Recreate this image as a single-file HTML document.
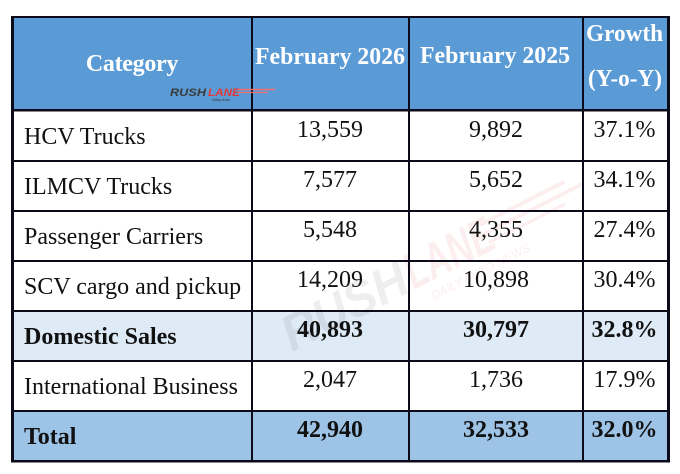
<!DOCTYPE html>
<html><head><meta charset="utf-8"><style>
html,body{margin:0;padding:0;background:#fff;}
svg{display:block;}
text{font-family:"Liberation Serif","Times New Roman",serif;}
.sans{font-family:"Liberation Sans",Arial,sans-serif;}
</style></head><body>
<svg width="680" height="474" viewBox="0 0 680 474" xmlns="http://www.w3.org/2000/svg">
<rect x="0" y="0" width="680" height="474" fill="#fff"/>
<!-- header bg -->
<rect x="12" y="16" width="657" height="95" fill="#5B9BD5"/>
<!-- domestic row -->
<rect x="12" y="311" width="657" height="50" fill="#DEEAF6"/>
<!-- total row -->
<rect x="12" y="411" width="657" height="50" fill="#9DC3E6"/>

<!-- watermark -->
<g opacity="0.08" transform="translate(292,352) rotate(-27)">
<text class="sans" x="0" y="0" font-size="50" font-weight="bold" font-style="italic" fill="#333" textLength="135" lengthAdjust="spacingAndGlyphs">RUSH</text>
<text class="sans" x="137" y="0" font-size="50" font-weight="bold" font-style="italic" fill="#e03030" textLength="95" lengthAdjust="spacingAndGlyphs">LANE</text>
<line x1="225" y1="-28" x2="320" y2="-28" stroke="#e03030" stroke-width="4"/>
<line x1="225" y1="-18" x2="335" y2="-18" stroke="#e03030" stroke-width="4"/>
<line x1="225" y1="-8" x2="310" y2="-8" stroke="#e03030" stroke-width="3"/>
<text class="sans" x="150" y="18" font-size="12" fill="#e03030" font-style="italic">DAILY AUTO NEWS</text>
</g>

<!-- grid lines -->
<g fill="#0b0b1a">
<rect x="11" y="16" width="3" height="446"/>
<rect x="251" y="16" width="2" height="446"/>
<rect x="408" y="16" width="2" height="446"/>
<rect x="582" y="16" width="2" height="446"/>
<rect x="667" y="16" width="3" height="446"/>
<rect x="11" y="16" width="659" height="2"/>
<rect x="11" y="109" width="659" height="2.5"/>
<rect x="11" y="160" width="659" height="2"/>
<rect x="11" y="210" width="659" height="2"/>
<rect x="11" y="260" width="659" height="2"/>
<rect x="11" y="310" width="659" height="2"/>
<rect x="11" y="360" width="659" height="2"/>
<rect x="11" y="410" width="659" height="2"/>
<rect x="11" y="460" width="659" height="2.5"/>
</g>

<!-- header text -->
<g fill="#fff" font-weight="bold" font-size="24" text-anchor="middle">
<text x="132" y="71" letter-spacing="-0.3">Category</text>
<text x="330" y="64" textLength="150" lengthAdjust="spacingAndGlyphs">February 2026</text>
<text x="495" y="63" textLength="150" lengthAdjust="spacingAndGlyphs">February 2025</text>
<text x="624.5" y="41" textLength="77" lengthAdjust="spacingAndGlyphs">Growth</text>
<text x="625" y="86" textLength="74" lengthAdjust="spacingAndGlyphs">(Y-o-Y)</text>
</g>

<!-- small logo -->
<g>
<text class="sans" x="170" y="96" font-size="11" font-weight="bold" font-style="italic" fill="#3a3a3a" textLength="36" lengthAdjust="spacingAndGlyphs">RUSH</text>
<text class="sans" x="208" y="96" font-size="11" font-weight="bold" font-style="italic" fill="#e23a3a" textLength="32" lengthAdjust="spacingAndGlyphs">LANE</text>
<line x1="238" y1="89.5" x2="275" y2="89.5" stroke="#f07070" stroke-width="1.5"/>
<line x1="238" y1="92.5" x2="268" y2="92.5" stroke="#f07070" stroke-width="1.2"/>
<text class="sans" x="212" y="101" font-size="4" fill="#333">Daily Auto</text>
</g>

<!-- labels -->
<g fill="#111" font-size="24">
<text x="24" y="144">HCV Trucks</text>
<text x="24" y="194">ILMCV Trucks</text>
<text x="24" y="244">Passenger Carriers</text>
<text x="24" y="294">SCV cargo and pickup</text>
<text x="24" y="344" font-weight="bold">Domestic Sales</text>
<text x="24" y="394">International Business</text>
<text x="24" y="444" font-weight="bold">Total</text>
</g>

<!-- numbers -->
<g fill="#111" font-size="24" text-anchor="middle">
<text x="330" y="137">13,559</text>
<text x="496" y="137">9,892</text>
<text x="624.5" y="137">37.1%</text>

<text x="330" y="187">7,577</text>
<text x="496" y="187">5,652</text>
<text x="624.5" y="187">34.1%</text>

<text x="330" y="237">5,548</text>
<text x="496" y="237">4,355</text>
<text x="624.5" y="237">27.4%</text>

<text x="330" y="287">14,209</text>
<text x="496" y="287">10,898</text>
<text x="624.5" y="287">30.4%</text>

<g font-weight="bold">
<text x="330" y="337">40,893</text>
<text x="496" y="337">30,797</text>
<text x="624.5" y="337">32.8%</text>
</g>

<text x="330" y="387">2,047</text>
<text x="496" y="387">1,736</text>
<text x="624.5" y="387">17.9%</text>

<g font-weight="bold">
<text x="330" y="437">42,940</text>
<text x="496" y="437">32,533</text>
<text x="624.5" y="437">32.0%</text>
</g>
</g>
</svg>
</body></html>
